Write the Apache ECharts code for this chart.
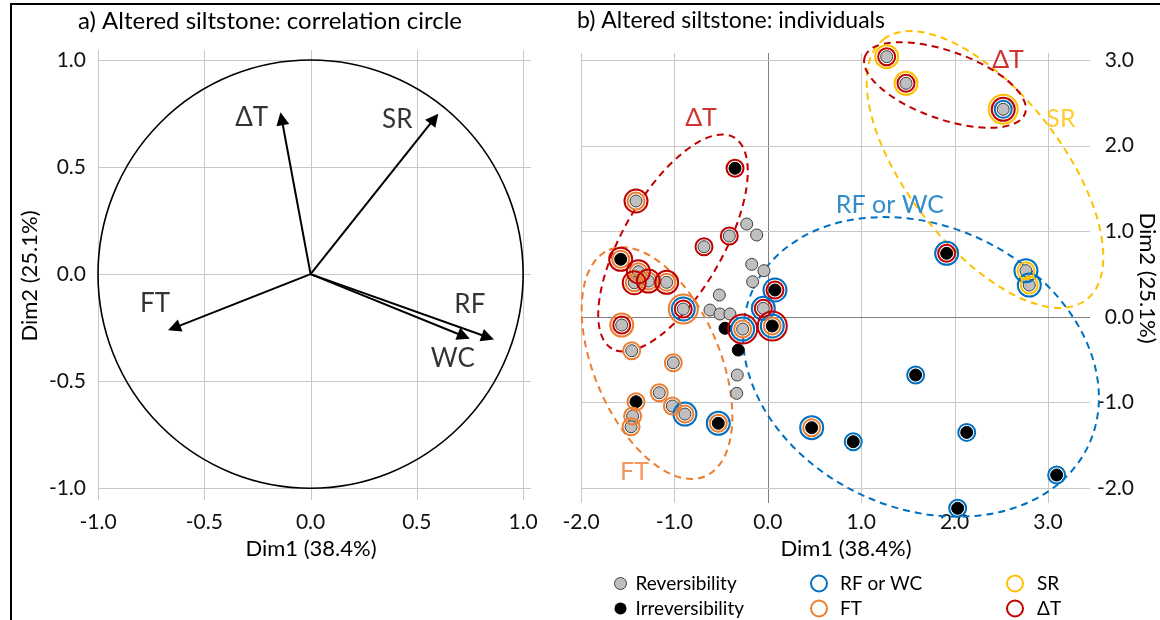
<!DOCTYPE html>
<html><head><meta charset="utf-8">
<script src="https://cdn.jsdelivr.net/npm/echarts@6/dist/echarts.min.js"></script>
<style>html,body{margin:0;padding:0;background:#fff}#c{width:1160px;height:620px}</style>
</head><body><div id="c"></div>
<script>
// ---------- DATA ----------
// a) correlation circle: variable coordinates on Dim1 / Dim2
const variables = ['ΔT', 'SR', 'FT', 'WC', 'RF'];
const loadDim1 = [-0.136, 0.582, -0.642, 0.721, 0.834];
const loadDim2 = [0.726, 0.726, -0.251, -0.290, -0.295];
const circleTicks = [-1, -0.5, 0, 0.5, 1];

// b) individuals: [Dim1, Dim2, group rings from inner to outer]
// B = RF or WC, O = FT, Y = SR, R = ΔT
const reversibility = [
  [-0.226, 1.084, ''], [-0.119, 0.956, ''], [-0.172, 0.613, ''], [-0.041, 0.539, ''],
  [-0.162, 0.410, ''], [-0.519, 0.255, ''], [-0.619, 0.079, ''], [-0.512, 0.033, ''],
  [-0.405, 0.033, ''], [-0.327, -0.680, ''], [-0.333, -0.894, ''],
  [-1.411, 1.353, 'OR'], [-0.412, 0.944, 'R'], [-0.683, 0.819, 'R'],
  [-1.386, 0.527, 'OR'], [-1.430, 0.398, 'OR'], [-1.279, 0.418, 'OR'], [-1.083, 0.403, 'OR'],
  [-0.905, 0.091, 'RBO'], [-0.048, 0.099, 'RB'], [-1.564, -0.096, 'RO'], [-0.269, -0.143, 'OBR'],
  [-1.457, -0.396, 'O'], [-1.012, -0.536, 'O'], [-1.162, -0.887, 'O'], [-1.022, -1.042, 'O'],
  [-0.887, -1.136, 'OB'], [-1.447, -1.159, 'O'], [-1.464, -1.284, 'O'],
  [1.273, 3.039, 'RY'], [1.480, 2.728, 'RY'], [2.521, 2.424, 'BRY'],
  [2.764, 0.539, 'YB'], [2.800, 0.371, 'YB']
];
const irreversibility = [
  [-0.458, -0.134, ''], [-0.316, -0.388, ''],
  [-0.351, 1.735, 'R'], [-1.575, 0.672, 'OR'], [0.077, 0.313, 'RB'], [0.048, -0.107, 'OBR'],
  [-1.411, -0.992, 'O'], [-0.530, -1.244, 'OB'], [0.470, -1.295, 'OB'], [0.915, -1.459, 'B'],
  [1.583, -0.680, 'B'], [2.130, -1.350, 'B'], [3.093, -1.848, 'B'], [2.033, -2.237, 'B'],
  [1.915, 0.742, 'RB']
];
const indivXTicks = [-2, -1, 0, 1, 2, 3];
const indivYTicks = [-2, -1, 0, 1, 2, 3];

// group outlines (dashed ellipses) drawn on the individuals map, in data units
const outlines = [
  {name: 'ΔT', code: 'R', cx: -1.015, cy: 0.862, a: 1.306, b: 0.535, rot: -60, label: [-0.715, 2.32]},
  {name: 'FT', code: 'O', cx: -1.186, cy: -0.541, a: 1.317, b: 0.675, rot: 67, label: [-1.427, -1.813]},
  {name: 'RF or WC', code: 'B', cx: 1.640, cy: -0.585, a: 1.981, b: 1.510, rot: 25, label: [1.308, 1.306]},
  {name: 'SR', code: 'Y', cx: 2.326, cy: 1.721, a: 1.767, b: 0.824, rot: 52, label: [3.139, 2.31]},
  {name: 'ΔT', code: 'R', cx: 1.897, cy: 2.708, a: 0.910, b: 0.364, rot: 19.5, label: [2.572, 3.0]}
];

// ---------- STYLE ----------
const FONT = 'Lato, "DejaVu Sans", sans-serif';
const ringColors = {B: '#0070C0', O: '#ED7D31', Y: '#FFC000', R: '#C00000'};
const ringNames = {B: 'RF or WC', O: 'FT', Y: 'SR', R: 'ΔT'};
const ringSizes = [17, 23, 29];
const arrowLabelOffset = {'ΔT': [-30, -1], 'SR': [-37, 1], 'FT': [-19, -24], 'WC': [-11, 22], 'RF': [-18, -33]};
const fmt = v => v.toFixed(1);

function ellipsePath(cx, cy, a, b, deg) {
  const r = deg * Math.PI / 180, ca = Math.cos(r), sa = Math.sin(r);
  const x1 = cx - a * ca, y1 = cy - a * sa, x2 = cx + a * ca, y2 = cy + a * sa;
  return 'M' + x1 + ' ' + y1 + 'A' + a + ' ' + b + ' ' + deg + ' 1 1 ' + x2 + ' ' + y2 +
         'A' + a + ' ' + b + ' ' + deg + ' 1 1 ' + x1 + ' ' + y1 + 'Z';
}

function gridLines(idx, values, dir, colorFn) {
  return {
    type: 'custom', xAxisIndex: idx, yAxisIndex: idx, silent: true, z: 1,
    data: values.map(v => dir === 'v' ? [v, 0] : [0, v]),
    renderItem(params, api) {
      const cs = params.coordSys;
      if (dir === 'v') {
        const v = api.value(0);
        const x = Math.round(api.coord([v, 0])[0]) + 0.5;
        return {type: 'line', shape: {x1: x, y1: cs.y, x2: x, y2: cs.y + cs.height},
                style: {stroke: colorFn(v), lineWidth: 1}};
      }
      const v = api.value(1);
      const y = Math.round(api.coord([0, v])[1]) + 0.5;
      return {type: 'line', shape: {x1: cs.x, y1: y, x2: cs.x + cs.width, y2: y},
              style: {stroke: colorFn(v), lineWidth: 1}};
    }
  };
}

function ringData(code) {
  const out = [];
  reversibility.concat(irreversibility).forEach(p => {
    const k = p[2].indexOf(code);
    if (k >= 0) out.push([p[0], p[1], ringSizes[k]]);
  });
  return out;
}

const axisLabelStyle = {fontSize: 21, color: '#111', fontFamily: FONT};

const series = [
  gridLines(0, circleTicks, 'v', () => '#C8C8C8'),
  gridLines(0, circleTicks, 'h', () => '#C8C8C8'),
  gridLines(1, indivXTicks, 'v', v => v === 0 ? '#808080' : '#C8C8C8'),
  gridLines(1, indivYTicks, 'h', v => v === 0 ? '#808080' : '#C8C8C8'),
  {
    type: 'custom', name: 'circle', xAxisIndex: 0, yAxisIndex: 0, silent: true, z: 2,
    data: [[0, 0]],
    renderItem(params, api) {
      const c = api.coord([0, 0]);
      const rx = api.size([1, 0])[0], ry = api.size([0, 1])[1];
      return {type: 'path', shape: {pathData: ellipsePath(c[0], c[1], rx, ry, 0)},
              style: {fill: 'none', stroke: '#000', lineWidth: 1.6}};
    }
  },
  {
    type: 'lines', coordinateSystem: 'cartesian2d', xAxisIndex: 0, yAxisIndex: 0, silent: true, z: 3,
    symbol: ['none', 'triangle'], symbolSize: [10, 13],
    lineStyle: {color: '#000', width: 2, opacity: 1},
    data: variables.map((v, i) => ({coords: [[0, 0], [loadDim1[i], loadDim2[i]]]}))
  },
  {
    type: 'scatter', name: 'arrowLabels', xAxisIndex: 0, yAxisIndex: 0, silent: true, z: 4,
    symbolSize: 0, clip: false,
    data: variables.map((v, i) => ({
      value: [loadDim1[i], loadDim2[i]],
      label: {show: true, position: 'inside', formatter: v, offset: arrowLabelOffset[v],
              fontSize: 26, color: '#000', fontFamily: FONT}
    }))
  },
  {
    type: 'custom', name: 'outlines', xAxisIndex: 1, yAxisIndex: 1, silent: true, z: 2, clip: false,
    data: outlines.map(o => [o.cx, o.cy]),
    renderItem(params, api) {
      const o = outlines[params.dataIndex];
      const c = api.coord([o.cx, o.cy]);
      const a = api.size([o.a, 0])[0], b = api.size([o.b, 0])[0];
      return {type: 'path', shape: {pathData: ellipsePath(c[0], c[1], a, b, o.rot)},
              style: {fill: 'none', stroke: ringColors[o.code], lineWidth: 2, lineDash: [7, 5]}};
    }
  },
  {
    type: 'scatter', name: 'outlineLabels', xAxisIndex: 1, yAxisIndex: 1, silent: true, z: 6,
    symbolSize: 0, clip: false,
    data: outlines.map(o => ({
      value: o.label,
      label: {show: true, position: 'inside', formatter: o.name, fontSize: 25,
              color: ringColors[o.code], fontFamily: FONT}
    }))
  },
  {
    type: 'scatter', name: 'Reversibility', xAxisIndex: 1, yAxisIndex: 1, z: 3, silent: true, clip: false,
    symbol: 'circle', symbolSize: 12,
    itemStyle: {color: '#BFBFBF', borderColor: '#404040', borderWidth: 1, opacity: 1},
    data: reversibility.map(p => [p[0], p[1]])
  },
  {
    type: 'scatter', name: 'Irreversibility', xAxisIndex: 1, yAxisIndex: 1, z: 3, silent: true, clip: false,
    symbol: 'circle', symbolSize: 12,
    itemStyle: {color: '#000', borderColor: '#000', borderWidth: 1, opacity: 1},
    data: irreversibility.map(p => [p[0], p[1]])
  }
];
['B', 'O', 'Y', 'R'].forEach(code => {
  series.push({
    type: 'scatter', name: ringNames[code], xAxisIndex: 1, yAxisIndex: 1, z: 4, silent: true, clip: false,
    symbol: 'circle', symbolSize: v => v[2],
    itemStyle: {color: 'rgba(0,0,0,0)', borderColor: ringColors[code], borderWidth: 2, opacity: 1},
    data: ringData(code)
  });
});

const legendText = {fontSize: 19, color: '#000', fontFamily: FONT, lineHeight: 18};
const ringLegendItem = code => ({name: ringNames[code], icon: 'circle',
  itemStyle: {color: 'rgba(0,0,0,0)', borderColor: ringColors[code], borderWidth: 2}});

const option = {
  animation: false,
  backgroundColor: '#fff',
  grid: [
    {left: 98, top: 50, width: 433, height: 450},
    {left: 581, top: 53, width: 509, height: 450}
  ],
  xAxis: [
    {gridIndex: 0, type: 'value', min: -1, max: 1.037,
     axisLine: {show: false, onZero: false}, axisTick: {show: false}, splitLine: {show: false},
     axisLabel: Object.assign({customValues: circleTicks, formatter: fmt, margin: 12}, axisLabelStyle)},
    {gridIndex: 1, type: 'value', min: -2, max: 3.45,
     axisLine: {show: false, onZero: false}, axisTick: {show: false}, splitLine: {show: false},
     axisLabel: Object.assign({customValues: indivXTicks, formatter: fmt, margin: 9}, axisLabelStyle)}
  ],
  yAxis: [
    {gridIndex: 0, type: 'value', min: -1.055, max: 1.047,
     axisLine: {show: false, onZero: false}, axisTick: {show: false}, splitLine: {show: false},
     axisLabel: Object.assign({customValues: circleTicks, formatter: fmt, margin: 12}, axisLabelStyle)},
    {gridIndex: 1, type: 'value', position: 'right', min: -2.175, max: 3.082,
     axisLine: {show: false, onZero: false}, axisTick: {show: false}, splitLine: {show: false},
     axisLabel: Object.assign({customValues: indivYTicks, formatter: fmt, margin: 44, align: 'right'}, axisLabelStyle)}
  ],
  legend: [
    {orient: 'vertical', left: 614, top: 574, padding: 0, itemWidth: 20, itemHeight: 12, itemGap: 6,
     selectedMode: false, textStyle: legendText,
     data: [
       {name: 'Reversibility', icon: 'circle', itemStyle: {color: '#BFBFBF', borderColor: '#404040', borderWidth: 1}},
       {name: 'Irreversibility', icon: 'circle', itemStyle: {color: '#000', borderColor: '#000', borderWidth: 0}}
     ]},
    {orient: 'vertical', left: 810, top: 574, padding: 0, itemWidth: 32, itemHeight: 16, itemGap: 6,
     selectedMode: false, textStyle: legendText,
     data: [ringLegendItem('B'), ringLegendItem('O')]},
    {orient: 'vertical', left: 1006, top: 574, padding: 0, itemWidth: 34, itemHeight: 16, itemGap: 6,
     selectedMode: false, textStyle: legendText,
     data: [ringLegendItem('Y'), ringLegendItem('R')]}
  ],
  graphic: [
    {type: 'line', shape: {x1: 10, y1: 4, x2: 1160, y2: 4}, style: {stroke: '#000', lineWidth: 2}},
    {type: 'line', shape: {x1: 11, y1: 4, x2: 11, y2: 620}, style: {stroke: '#000', lineWidth: 2}},
    {type: 'text', x: 270, y: 21, style: {text: 'a) Altered siltstone: correlation circle', font: '24px ' + FONT,
      fill: '#000', align: 'center', verticalAlign: 'middle'}},
    {type: 'text', x: 577, y: 21, style: {text: 'b) Altered siltstone: individuals', font: '23px ' + FONT,
      fill: '#000', align: 'left', verticalAlign: 'middle'}},
    {type: 'text', x: 311, y: 549, style: {text: 'Dim1 (38.4%)', font: '22px ' + FONT,
      fill: '#000', align: 'center', verticalAlign: 'middle'}},
    {type: 'text', x: 846, y: 549, style: {text: 'Dim1 (38.4%)', font: '22px ' + FONT,
      fill: '#000', align: 'center', verticalAlign: 'middle'}},
    {type: 'text', x: 30, y: 276, rotation: Math.PI / 2, style: {text: 'Dim2 (25.1%)', font: '22px ' + FONT,
      fill: '#000', align: 'center', verticalAlign: 'middle'}},
    {type: 'text', x: 1147, y: 278, rotation: -Math.PI / 2, style: {text: 'Dim2 (25.1%)', font: '22px ' + FONT,
      fill: '#000', align: 'center', verticalAlign: 'middle'}}
  ],
  series: series
};
const chart = echarts.init(document.getElementById('c'));
chart.setOption(option);
</script>
</body></html>
